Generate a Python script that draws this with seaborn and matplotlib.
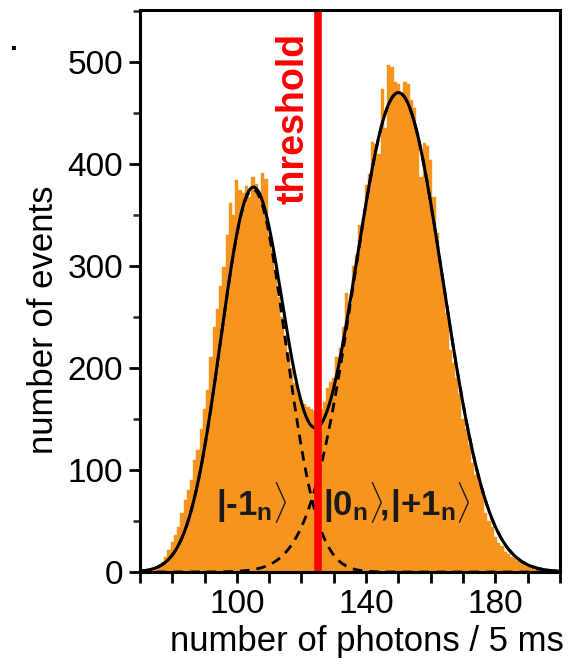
import numpy as np
import matplotlib
matplotlib.use("Agg")
import matplotlib.pyplot as plt
import seaborn as sns

# photon-count histogram, 1-photon bins
photon_bins = list(range(70, 201))
counts = [
    1, 2, 2, 3, 4, 5, 7, 10, 15, 22,
    29, 36, 44, 58, 71, 80, 90, 110, 120, 140,
    160, 178, 211, 240, 258, 280, 299, 330, 362, 350,
    384, 375, 372, 378, 368, 387, 380, 370, 391, 385,
    330, 316, 290, 270, 250, 230, 215, 200, 185, 175,
    169, 165, 162, 160, 158, 160, 160, 167, 180, 186,
    190, 211, 220, 240, 274, 260, 300, 311, 340, 341,
    379, 390, 422, 420, 410, 474, 435, 497, 495, 480,
    478, 470, 480, 478, 463, 455, 430, 387, 421, 418,
    404, 368, 332, 300, 280, 254, 218, 205, 190, 175,
    150, 140, 125, 107, 95, 87, 80, 58, 50, 44,
    34, 28, 25, 20, 18, 15, 14, 11, 10, 9,
    7, 7, 6, 4, 4, 3, 3, 2, 1, 0, 0,
]

# gaussian fit parameters (centre, width, amplitude)
fit_low = (105.0, 10.0, 375.0)
fit_high = (150.0, 13.8, 470.0)
threshold = 125

state_labels = [r"$\mathbf{|\text{-}1_n}\rangle$",
                r"$\mathbf{|0_n}\rangle\!\mathbf{,\!|{+}1_n}\rangle$"]
state_pos = [(104.5, 68), (149.5, 68)]

orange = "#F7941E"

sns.set_style("ticks")
plt.rcParams["font.family"] = ["Liberation Sans", "DejaVu Sans"]
plt.rcParams["mathtext.fontset"] = "custom"
plt.rcParams["mathtext.rm"] = "Liberation Sans:bold"
plt.rcParams["mathtext.bf"] = "Liberation Sans:bold"
plt.rcParams["mathtext.it"] = "Liberation Sans:italic"
plt.rcParams["text.color"] = "k"
plt.rcParams["axes.labelcolor"] = "k"

fig = plt.figure(figsize=(5.78, 6.69), dpi=100)
ax = fig.add_axes([0.242, 0.145, 0.727, 0.840])

sns.histplot(x=photon_bins, weights=counts, discrete=True, color=orange,
             alpha=1, edgecolor=orange, linewidth=0.3, ax=ax)


def gauss(x, p):
    mu, sig, amp = p
    return amp * np.exp(-0.5 * ((x - mu) / sig) ** 2)


xs = np.linspace(70, 200, 600)
ax.plot(xs, gauss(xs, fit_low), color="k", lw=2, ls=(0, (3.5, 2.5)))
ax.plot(xs, gauss(xs, fit_high), color="k", lw=2, ls=(0, (3.5, 2.5)))
ax.plot(xs, gauss(xs, fit_low) + gauss(xs, fit_high), color="k", lw=2.2)

ax.axvline(threshold, color="#FF0000", lw=5.5)
ax.text(117.4, 445, "threshold", color="#FF0000", fontsize=27, fontweight="bold",
        rotation=90, ha="center", va="center")

for lab, (tx, ty) in zip(state_labels, state_pos):
    ax.text(tx, ty, lab, fontsize=25, color="#1a1a1a", ha="center", va="center")

ax.set_xlim(70, 200)
ax.set_ylim(0, 551)
xt = list(range(70, 201, 10))
ax.set_xticks(xt)
ax.set_xticklabels([str(v) if v in (100, 140, 180) else "" for v in xt])
ax.set_yticks([0, 100, 200, 300, 400, 500])
ax.set_yticks(list(range(50, 551, 100)), minor=True)
ax.tick_params(axis="both", which="major", direction="out", length=8, width=2,
               labelsize=24, colors="k", labelcolor="k", pad=4)
ax.tick_params(axis="y", which="minor", direction="out", length=5, width=1.8)
for s in ax.spines.values():
    s.set_linewidth(2.2)
    s.set_color("k")
ax.set_xlabel("number of photons / 5 ms", fontsize=25)
ax.set_ylabel("number of events", fontsize=25)
ax.xaxis.set_label_coords(0.54, -0.095)
ax.yaxis.set_label_coords(-0.19, 0.448)

fig.text(0.015, 0.925, ".", fontsize=20, fontweight="bold")

fig.savefig("out.png", dpi=100)
